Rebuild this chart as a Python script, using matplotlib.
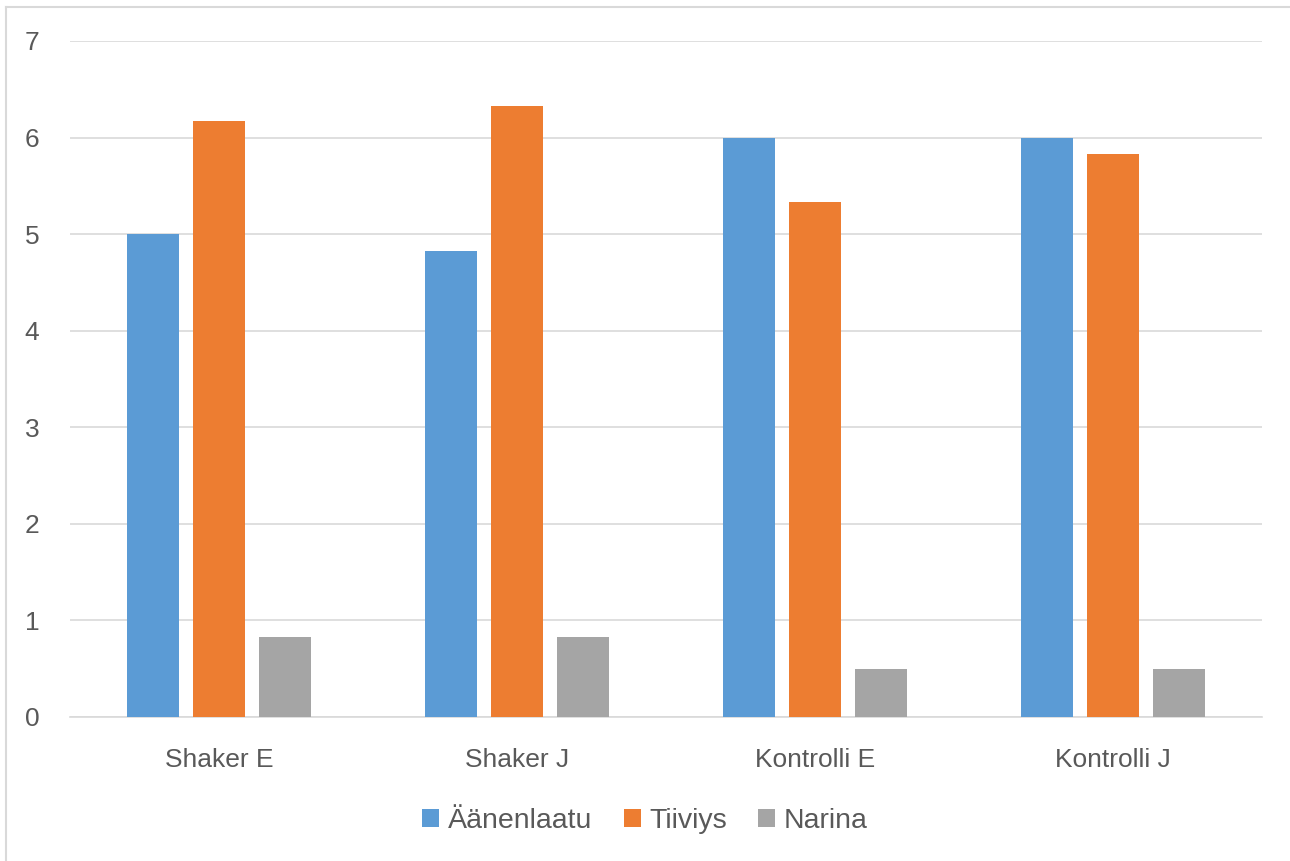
import matplotlib
matplotlib.use('Agg')
from matplotlib import pyplot as plt
from matplotlib.lines import Line2D
import numpy as np

categories = ['Shaker E', 'Shaker J', 'Kontrolli E', 'Kontrolli J']
series_names = ['Äänenlaatu', 'Tiiviys', 'Narina']
aanenlaatu = [5.0, 4.83, 6.0, 6.0]
tiiviys = [6.17, 6.33, 5.33, 5.83]
narina = [0.83, 0.83, 0.5, 0.5]
colors = ['#5B9BD5', '#ED7D31', '#A5A5A5']

plt.rcParams['font.family'] = ['Liberation Sans', 'DejaVu Sans']

fig = plt.figure(figsize=(12.9, 8.61), dpi=100)
ax = fig.add_axes([70 / 1290, 144 / 861, (1262 - 70) / 1290, (717 - 41) / 861])

x = np.arange(len(categories))
w = 52 / 298
step = 66 / 298
for i, (vals, name) in enumerate(zip([aanenlaatu, tiiviys, narina], series_names)):
    ax.bar(x + (i - 1) * step, vals, width=w, color=colors[i], label=name, zorder=3)

ax.set_xlim(-0.5, len(categories) - 0.5)
ax.set_ylim(0, 7)
ax.set_yticks(range(0, 8))
ax.set_xticks(x)
ax.set_xticklabels(categories)
ax.grid(axis='y', color='#D9D9D9', linewidth=1.2, zorder=0)
for s in ['top', 'right', 'left']:
    ax.spines[s].set_visible(False)
ax.spines['bottom'].set_color('#D9D9D9')
ax.spines['bottom'].set_linewidth(1.2)
ax.tick_params(axis='both', length=0, labelsize=19, colors='#595959')
ax.tick_params(axis='x', pad=22)
ax.tick_params(axis='y', pad=22)

leg = fig.legend(loc='center', bbox_to_anchor=(0.5, 1 - 821 / 861), ncol=3, frameon=False,
                 fontsize=20.5, handlelength=0.6, handleheight=0.6, columnspacing=1.1,
                 handletextpad=0.3)
for t in leg.get_texts():
    t.set_color('#595959')

# outer frame: only left and top edges are visible
bx, by = 6 / 1290, 1 - 7 / 861
fig.add_artist(Line2D([bx, bx], [0, by], transform=fig.transFigure, color='#D9D9D9', lw=1.5))
fig.add_artist(Line2D([bx, 1], [by, by], transform=fig.transFigure, color='#D9D9D9', lw=1.5))

fig.savefig('out.png', dpi=100)
